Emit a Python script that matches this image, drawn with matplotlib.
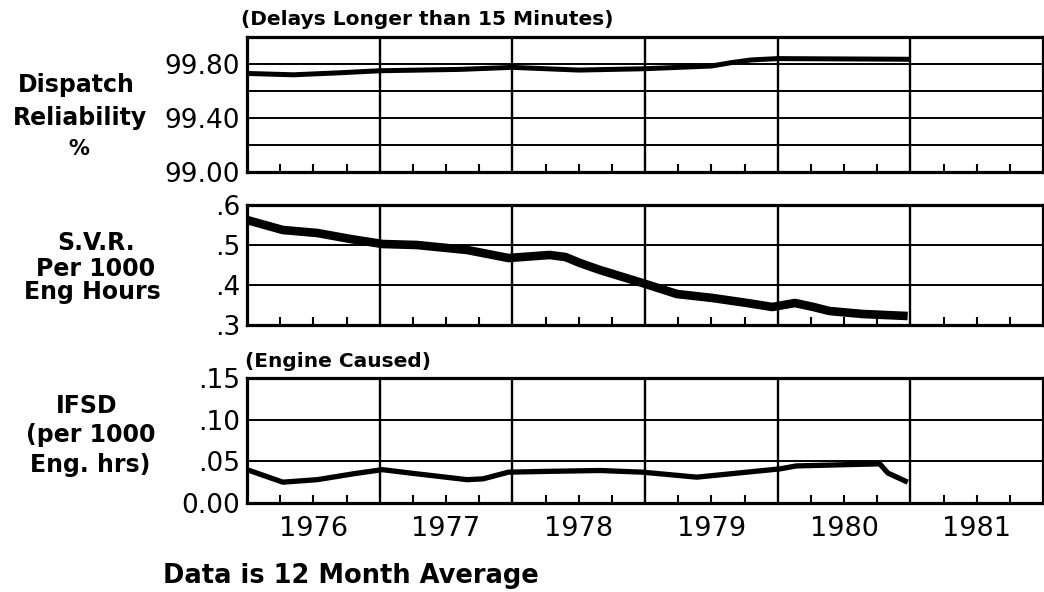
import matplotlib
matplotlib.use("Agg")
import matplotlib.pyplot as plt

# ── Data ──────────────────────────────────────────────────────────────────
YEARS = [1976, 1977, 1978, 1979, 1980, 1981]
YEAR_LABELS = ["1976", "1977", "1978", "1979", "1980", "1981"]

# Dispatch reliability, % (delays longer than 15 minutes)
disp_x = [1976.0, 1976.35, 1976.7, 1977.0, 1977.6, 1978.0, 1978.5, 1979.0,
          1979.5, 1979.65, 1979.8, 1980.0, 1981.0]
disp_y = [99.73, 99.72, 99.735, 99.75, 99.76, 99.775, 99.755, 99.765,
          99.785, 99.81, 99.83, 99.84, 99.835]
disp_ticks = [99.0, 99.2, 99.4, 99.6, 99.8, 100.0]
disp_labels = ["99.00", "", "99.40", "", "99.80", ""]

# S.V.R. per 1000 engine hours
svr_x = [1976.0, 1976.27, 1976.53, 1976.78, 1977.02, 1977.28, 1977.66,
         1977.97, 1978.28, 1978.4, 1978.51, 1978.66, 1978.98, 1979.24,
         1979.51, 1979.77, 1979.96, 1980.13, 1980.27, 1980.39, 1980.64,
         1980.98]
svr_y = [0.5625, 0.5375, 0.53, 0.515, 0.5025, 0.50, 0.4875,
         0.4675, 0.475, 0.47, 0.455, 0.4375, 0.405, 0.3775,
         0.3675, 0.355, 0.345, 0.355, 0.345, 0.335, 0.3275,
         0.3225]
svr_ticks = [0.3, 0.4, 0.5, 0.6]
svr_labels = [".3", ".4", ".5", ".6"]

# IFSD per 1000 engine hours (engine caused)
ifsd_x = [1976.0, 1976.27, 1976.53, 1976.8, 1977.02, 1977.28, 1977.66,
          1977.78, 1977.97, 1978.28, 1978.66, 1978.98, 1979.39, 1980.02,
          1980.14, 1980.77, 1980.83, 1980.98]
ifsd_y = [0.040, 0.025, 0.028, 0.035, 0.040, 0.035, 0.028,
          0.029, 0.037, 0.038, 0.039, 0.037, 0.031, 0.041,
          0.0445, 0.047, 0.036, 0.025]
ifsd_ticks = [0.0, 0.05, 0.10, 0.15]
ifsd_labels = ["0.00", ".05", ".10", ".15"]

# ── Figure ────────────────────────────────────────────────────────────────
W, H = 1044, 592
fig = plt.figure(figsize=(W / 100, H / 100), dpi=100)
plt.rcParams["font.family"] = ["DejaVu Sans"]


def px_axes(left, top, right, bottom):
    return fig.add_axes([left / W, 1 - bottom / H,
                         (right - left) / W, (bottom - top) / H])


def style_panel(ax, ticks, labels, show_years):
    ax.set_xlim(YEARS[0], YEARS[-1] + 1)
    ax.set_ylim(ticks[0], ticks[-1])
    ax.set_yticks(ticks)
    ax.set_yticklabels(labels)
    ax.tick_params(axis="y", length=0, pad=5, labelsize=19)
    ax.grid(axis="y", color="black", lw=1.4)
    for yr in YEARS[1:]:
        ax.axvline(yr, color="black", lw=1.7, zorder=1)
    # mid-year ticks carry the year labels, quarter ticks are minor
    ax.set_xticks([y + 0.5 for y in YEARS])
    ax.set_xticklabels(YEAR_LABELS if show_years else [])
    ax.set_xticks([y + q for y in YEARS for q in (0.25, 0.75)], minor=True)
    ax.tick_params(axis="x", which="both", direction="in", length=6,
                   width=1.5, pad=9, labelsize=19.5, bottom=True, top=False)
    for sp in ax.spines.values():
        sp.set_linewidth(2.3)


ax1 = px_axes(247, 37, 1043, 172)
ax1.plot(disp_x, disp_y, color="black", lw=3.6, solid_capstyle="butt",
         solid_joinstyle="round", zorder=3)
style_panel(ax1, disp_ticks, disp_labels, False)

ax2 = px_axes(247, 205, 1043, 325)
ax2.plot(svr_x, svr_y, color="black", lw=6.2, solid_capstyle="butt",
         solid_joinstyle="round", zorder=3)
style_panel(ax2, svr_ticks, svr_labels, False)

ax3 = px_axes(247, 378, 1043, 503)
ax3.plot(ifsd_x, ifsd_y, color="black", lw=3.8, solid_capstyle="butt",
         solid_joinstyle="round", zorder=3)
style_panel(ax3, ifsd_ticks, ifsd_labels, True)


# ── Text ──────────────────────────────────────────────────────────────────
def ftext(x, y, s, size, ha="center"):
    fig.text(x / W, 1 - y / H, s, fontsize=size, fontweight="bold",
             ha=ha, va="baseline")


# side labels (x centre, baseline y)
ftext(76, 92, "Dispatch", 17)
ftext(80, 125, "Reliability", 17)
ftext(79, 155, "%", 15)
ftext(96, 250, "S.V.R.", 17)
ftext(96, 276, "Per 1000", 17)
ftext(92, 299, "Eng Hours", 17)
ftext(87, 413, "IFSD", 17)
ftext(91, 442, "(per 1000", 17)
ftext(90, 472, "Eng. hrs)", 17)

ftext(241, 25, "(Delays Longer than 15 Minutes)", 14.5, ha="left")
ftext(245, 367, "(Engine Caused)", 14.5, ha="left")
ftext(163, 583, "Data is 12 Month Average", 18.5, ha="left")

fig.savefig("out.png", dpi=100)
